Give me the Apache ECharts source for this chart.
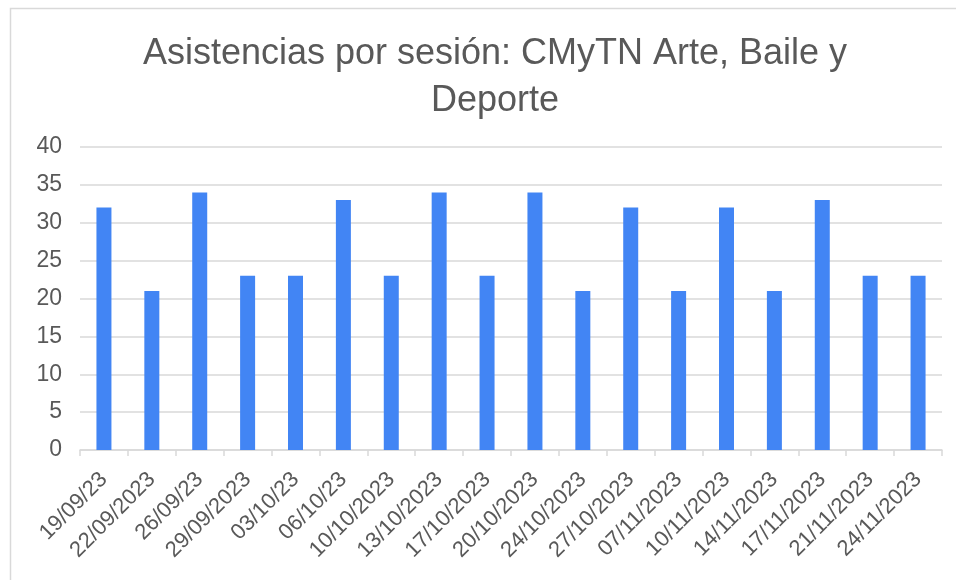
<!DOCTYPE html>
<html>
<head>
<meta charset="utf-8">
<script src="https://cdn.jsdelivr.net/npm/echarts@6/dist/echarts.min.js"></script>
<style>
  html, body { margin: 0; padding: 0; background: #fff; }
  #chart { width: 956px; height: 580px; }
</style>
</head>
<body>
<div id="chart"></div>
<script>
// fechas de sesión
const sesiones = [
  '19/09/23', '22/09/2023', '26/09/23', '29/09/2023', '03/10/23', '06/10/23',
  '10/10/2023', '13/10/2023', '17/10/2023', '20/10/2023', '24/10/2023', '27/10/2023',
  '07/11/2023', '10/11/2023', '14/11/2023', '17/11/2023', '21/11/2023', '24/11/2023'
]
// asistentes por sesión
const asistencias = [32, 21, 34, 23, 23, 33, 23, 34, 23, 34, 21, 32, 21, 32, 21, 33, 23, 23]

const gris = '#595959'
const lineaGris = '#d9d9d9'

const chart = echarts.init(document.getElementById('chart'))
const option = {
  animation: false,
  textStyle: { fontFamily: 'Liberation Sans, Arial, sans-serif' },
  title: {
    text: 'Asistencias por sesión: CMyTN Arte, Baile y\nDeporte',
    left: 490,
    textAlign: 'center',
    top: 26,
    textStyle: {
      color: gris,
      fontSize: 36,
      fontWeight: 'normal',
      lineHeight: 47
    }
  },
  // marco del gráfico
  graphic: [
    {
      type: 'rect',
      shape: { x: 10.5, y: 8.5, width: 980, height: 600 },
      style: { fill: 'none', stroke: '#d9d9d9', lineWidth: 1.5 },
      silent: true
    }
  ],
  grid: {
    left: 80,
    right: 14,
    top: 147,
    bottom: 130
  },
  xAxis: {
    type: 'category',
    data: sesiones,
    axisLine: { lineStyle: { color: lineaGris, width: 1.5 } },
    axisTick: { show: true, length: 6, lineStyle: { color: lineaGris, width: 1.5 } },
    axisLabel: {
      rotate: 45,
      interval: 0,
      color: gris,
      fontSize: 22,
      margin: 26
    }
  },
  yAxis: {
    type: 'value',
    min: 0,
    max: 40,
    interval: 5,
    axisLine: { show: false },
    axisTick: { show: false },
    axisLabel: { color: gris, fontSize: 23, margin: 18 },
    splitLine: { lineStyle: { color: lineaGris, width: 1.5 } }
  },
  series: [
    {
      type: 'bar',
      data: asistencias,
      barWidth: 15,
      itemStyle: { color: '#4285f4' }
    }
  ]
}
chart.setOption(option)
</script>
</body>
</html>
